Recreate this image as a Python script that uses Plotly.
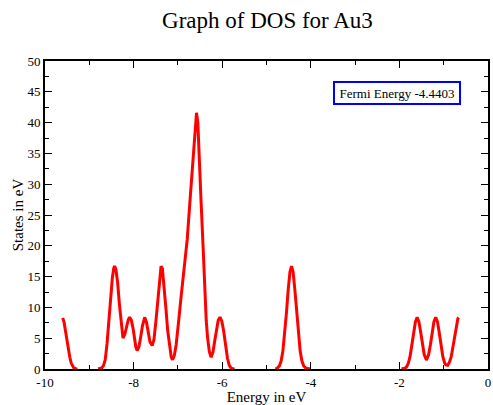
import plotly.graph_objects as go

# Energy (eV) and DOS values, segment by segment
seg1_e = [-9.60, -9.57, -9.54, -9.50, -9.47, -9.44, -9.41, -9.38, -9.35, -9.31, -9.27]
seg1_d = [8.3, 7.6, 6.3, 4.3, 3.0, 1.9, 1.0, 0.45, 0.18, 0.05, 0.0]

seg2_e = [-8.80, -8.76, -8.72, -8.68, -8.64, -8.60, -8.56, -8.52, -8.48, -8.45, -8.43,
          -8.40, -8.36, -8.32, -8.28, -8.24, -8.20, -8.16, -8.12, -8.09, -8.05, -8.01,
          -7.97, -7.95, -7.92, -7.88, -7.84, -7.80, -7.75, -7.71, -7.67, -7.63, -7.58,
          -7.54, -7.50, -7.46, -7.42, -7.38, -7.35, -7.31, -7.27, -7.23, -7.19, -7.15,
          -7.12, -7.08, -7.04, -7.02, -6.98, -6.93, -6.86, -6.79, -6.72, -6.645, -6.61,
          -6.58, -6.55, -6.52, -6.48, -6.43, -6.39, -6.36, -6.33, -6.29, -6.25, -6.21,
          -6.17, -6.13, -6.09, -6.05, -6.01, -5.97, -5.92, -5.88, -5.84, -5.80, -5.76, -5.72]
seg2_d = [0.0, 0.04, 0.17, 0.55, 1.5, 4.1, 8.0, 11.5, 14.8, 16.3, 16.7,
          16.2, 14.0, 10.5, 7.3, 5.0, 5.6, 6.9, 8.0, 8.4, 7.9, 6.5,
          4.6, 3.6, 3.0, 3.6, 5.2, 7.0, 8.4, 7.6, 6.0, 4.4, 3.8,
          4.8, 7.5, 11.0, 14.6, 16.7, 16.3, 13.5, 9.8, 6.2, 3.5, 1.9,
          1.5, 2.2, 3.9, 5.1, 8.0, 11.6, 16.0, 21.0, 28.0, 35.7, 39.8,
          41.6, 40.0, 35.7, 27.7, 19.6, 11.6, 7.8, 5.1, 2.8, 1.9, 2.7,
          4.5, 6.5, 7.9, 8.4, 7.8, 6.3, 3.5, 1.7, 0.6, 0.15, 0.03, 0.0]

seg3_e = [-4.80, -4.755, -4.71, -4.67, -4.63, -4.59, -4.55, -4.51, -4.47, -4.435,
          -4.40, -4.36, -4.32, -4.28, -4.24, -4.20, -4.16, -4.115, -4.07, -4.02]
seg3_d = [0.0, 0.15, 0.5, 1.3, 2.9, 5.5, 9.1, 12.9, 15.8, 16.7,
          15.8, 12.9, 9.1, 5.5, 2.9, 1.3, 0.5, 0.15, 0.03, 0.0]

seg4_e = [-1.95, -1.88, -1.84, -1.80, -1.76, -1.72, -1.68, -1.64, -1.60, -1.56, -1.52,
          -1.48, -1.44, -1.39, -1.34, -1.30, -1.26, -1.22, -1.18, -1.14, -1.10, -1.06,
          -1.02, -0.98, -0.95, -0.91, -0.87, -0.83, -0.79, -0.75, -0.71, -0.68, -0.66]
seg4_d = [0.0, 0.11, 0.34, 0.91, 2.0, 3.76, 5.9, 7.6, 8.4, 7.7, 6.0,
          3.95, 2.35, 1.45, 2.35, 3.95, 6.0, 7.7, 8.4, 7.65, 5.9, 3.8,
          2.05, 1.0, 0.65, 0.6, 1.1, 2.0, 3.6, 5.6, 7.4, 8.2, 8.35]

x_ticks = [-10, -8, -6, -4, -2, 0]
y_ticks = [0, 5, 10, 15, 20, 25, 30, 35, 40, 45, 50]
fermi_label = "Fermi Energy -4.4403"

energy = seg1_e + [None] + seg2_e + [None] + seg3_e + [None] + seg4_e
dos = seg1_d + [None] + seg2_d + [None] + seg3_d + [None] + seg4_d

font_family = "Liberation Serif"

fig = go.Figure()
fig.add_trace(go.Scatter(x=energy, y=dos, mode="lines",
                         line=dict(color="#ff0000", width=3),
                         connectgaps=False, showlegend=False))

axis_common = dict(
    showline=True, linecolor="black", linewidth=2, mirror="allticks",
    ticks="inside", ticklen=7, tickwidth=1, tickcolor="black",
    showgrid=False, zeroline=False, layer="above traces",
    tickfont=dict(family=font_family, size=13, color="black"),
)

fig.update_xaxes(range=[-10, 0], tickvals=x_ticks, ticktext=[str(v) for v in x_ticks],
                 minor=dict(dtick=1, ticks="inside", ticklen=4, tickcolor="black", showgrid=False),
                 title=dict(text="Energy in eV", font=dict(family=font_family, size=15, color="black"),
                            standoff=2),
                 **axis_common)
fig.update_yaxes(range=[0, 50], tickvals=y_ticks, ticktext=[str(v) for v in y_ticks],
                 minor=dict(dtick=2.5, ticks="inside", ticklen=4, tickcolor="black", showgrid=False),
                 title=dict(text="States in eV", font=dict(family=font_family, size=15, color="black"),
                            standoff=0),
                 **axis_common)

fig.add_annotation(xref="paper", yref="paper", x=0.795, y=0.897,
                   xanchor="center", yanchor="middle", showarrow=False,
                   text=fermi_label, font=dict(family=font_family, size=13, color="black"),
                   width=120, height=16, align="center",
                   bordercolor="#0000ff", borderwidth=2, borderpad=2, bgcolor="white")

fig.update_layout(
    width=493, height=405,
    margin=dict(l=45, r=3, t=61, b=33),
    paper_bgcolor="white", plot_bgcolor="white",
    title=dict(text="Graph of DOS for Au3", x=0.5425, xanchor="center", y=0.95, yanchor="middle",
               font=dict(family=font_family, size=23, color="black")),
)

fig.write_html("out.html")
